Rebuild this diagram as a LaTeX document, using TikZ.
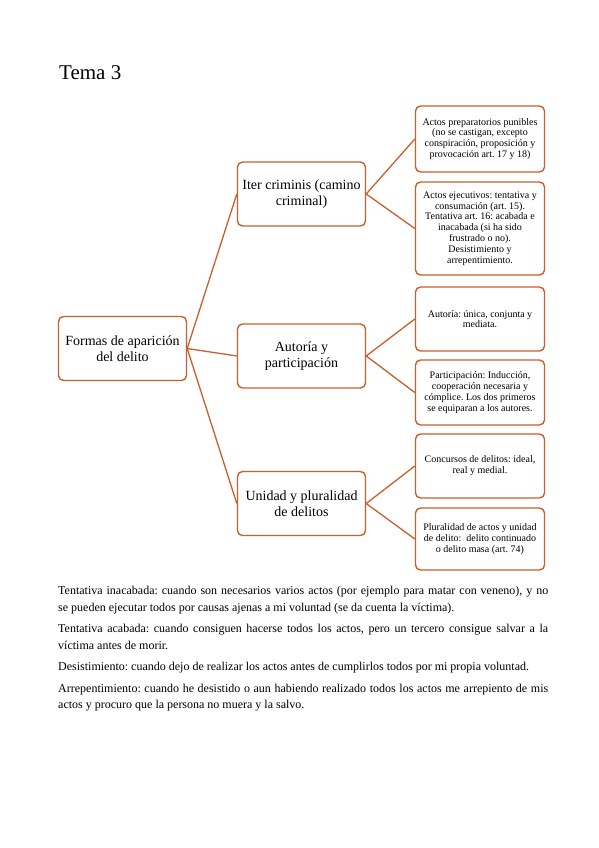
\documentclass[tikz,border=0pt]{standalone}
\usepackage{fontspec}
\setmainfont{Liberation Serif}
\usepackage{xcolor}
\usetikzlibrary{positioning, calc, arrows.meta}
\definecolor{linebrown}{RGB}{200,95,45}
\frenchspacing

\begin{document}
\begin{tikzpicture}[x=1pt, y=-1pt, >=latex,
    box/.style={draw=linebrown, line width=1.4pt, rounded corners=5pt, fill=white,
        align=center, inner sep=2pt},
    mainbox/.style={box, minimum width=128pt, minimum height=64pt,
        font=\fontsize{14}{16}\selectfont},
    subbox/.style={box, minimum width=129pt, font=\fontsize{10}{10.8}\selectfont},
    link/.style={draw=linebrown, line width=1.3pt}]

    % page frame
    \useasboundingbox (0,0) rectangle (599,848);

    % Title
    \node[anchor=base west, inner sep=0pt, font=\fontsize{21}{24}\selectfont] (title) at (59,80) {Tema 3};

    % Root and second level
    \node[mainbox] (formas) at (122.5,348.5) {Formas de aparición\\del delito};
    \node[mainbox] (iter) at (301.5,194) {Iter criminis (camino\\criminal)};
    \node[mainbox] (autoria) at (301.5,356) {Autoría y\\participación};
    \node[mainbox] (unidad) at (301.5,503.5) {Unidad y pluralidad\\de delitos};

    % Third level
    \node[subbox, minimum height=66pt] (preparatorios) at (480,139)
        {Actos preparatorios punibles\\(no se castigan, excepto\\conspiración, proposición y\\provocación art. 17 y 18)};
    \node[subbox, minimum height=93pt] (ejecutivos) at (480,228.5)
        {Actos ejecutivos: tentativa y\\consumación (art. 15).\\Tentativa art. 16: acabada e\\inacabada (si ha sido\\frustrado o no).\\Desistimiento y\\arrepentimiento.};
    \node[subbox, minimum height=64pt] (autores) at (480,319)
        {Autoría: única, conjunta y\\mediata.};
    \node[subbox, minimum height=65pt] (participacion) at (480,392.5)
        {Participación: Inducción,\\cooperación necesaria y\\cómplice. Los dos primeros\\se equiparan a los autores.};
    \node[subbox, minimum height=64pt] (concursos) at (480,466)
        {Concursos de delitos: ideal,\\real y medial.};
    \node[subbox, minimum height=62pt] (pluralidad) at (480,539)
        {Pluralidad de actos y unidad\\de delito:\ \ delito continuado\\o delito masa (art. 74)};

    % Connectors
    \foreach \child in {iter, autoria, unidad}
        \draw[link] (formas.east) -- (\child.west);
    \foreach \child in {preparatorios, ejecutivos}
        \draw[link] (iter.east) -- (\child.west);
    \foreach \child in {autores, participacion}
        \draw[link] (autoria.east) -- (\child.west);
    \foreach \child in {concursos, pluralidad}
        \draw[link] (unidad.east) -- (\child.west);

    % Notes under the diagram
    \node[anchor=north west, inner sep=0pt, text width=490pt, align=justify,
        font=\fontsize{12}{16.5}\selectfont] (notas) at (58,586) {%
        \setlength{\parskip}{5pt}%
        Tentativa inacabada: cuando son necesarios varios actos (por ejemplo para matar con veneno), y no\linebreak
        se pueden ejecutar todos por causas ajenas a mi voluntad (se da cuenta la víctima).\par
        Tentativa acabada: cuando consiguen hacerse todos los actos, pero un tercero consigue salvar a la\linebreak
        víctima antes de morir.\par
        Desistimiento: cuando dejo de realizar los actos antes de cumplirlos todos por mi propia voluntad.\par
        Arrepentimiento: cuando he desistido o aun habiendo realizado todos los actos me arrepiento de mis\linebreak
        actos y procuro que la persona no muera y la salvo.};

\end{tikzpicture}
\end{document}
